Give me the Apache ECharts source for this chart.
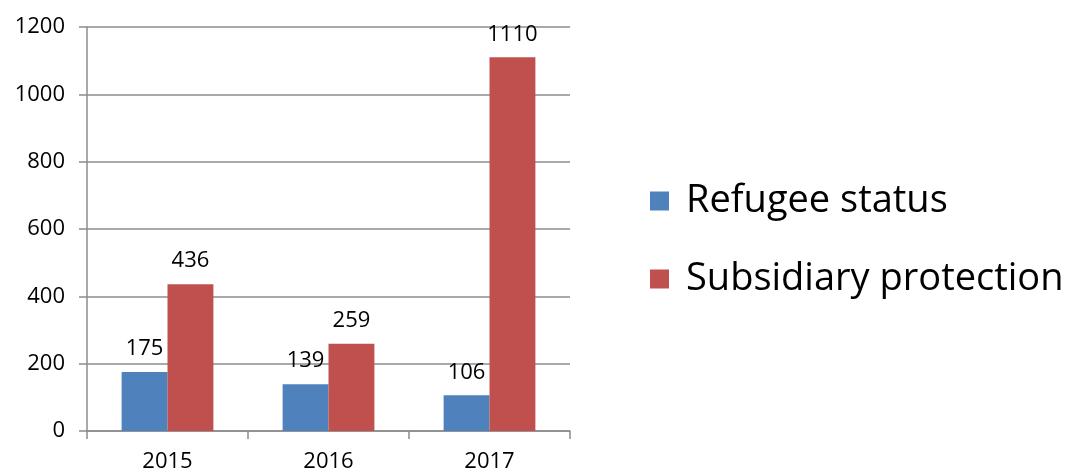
<!DOCTYPE html>
<html><head><meta charset="utf-8">
<script src="https://cdn.jsdelivr.net/npm/echarts@6/dist/echarts.min.js"></script>
<style>html,body{margin:0;padding:0;background:#fff}#c{width:1078px;height:473px}</style>
</head><body><div id="c"></div>
<script>
const categories = ['2015', '2016', '2017'];
const refugeeStatus = [175, 139, 106];
const subsidiaryProtection = [436, 259, 1110];
const seriesNames = ['Refugee status', 'Subsidiary protection'];
const yTicks = { min: 0, max: 1200, interval: 200 };

const font = 'Open Sans';
const chart = echarts.init(document.getElementById('c'));
const labelCfg = { show: true, position: 'top', distance: 12, color: '#000', fontSize: 22, fontFamily: font };
chart.setOption({
  animation: false,
  textStyle: { fontFamily: font },
  grid: { left: 87, right: 508, top: 27, bottom: 42 },
  legend: {
    orient: 'vertical', left: 645, top: 175, itemWidth: 19, itemHeight: 19, itemGap: 36,
    icon: 'rect',
    textStyle: { fontSize: 38, color: '#000', fontFamily: font, lineHeight: 42, padding: [0,0,0,12] },
    data: seriesNames
  },
  xAxis: {
    type: 'category', data: categories,
    axisLine: { lineStyle: { color: '#8c8c8c', width: 1.5 } },
    axisTick: { show: true, length: 8, lineStyle: { color: '#8c8c8c', width: 1.5 } },
    axisLabel: { color: '#000', fontSize: 22, margin: 20, fontFamily: font }
  },
  yAxis: {
    type: 'value', min: yTicks.min, max: yTicks.max, interval: yTicks.interval,
    axisLine: { show: true, lineStyle: { color: '#8c8c8c', width: 1.5 } },
    axisTick: { show: true, length: 8, lineStyle: { color: '#8c8c8c', width: 1.5 } },
    splitLine: { lineStyle: { color: '#8c8c8c', width: 1.5 } },
    axisLabel: { color: '#000', fontSize: 22, margin: 22, fontFamily: font, formatter: v => String(v) }
  },
  series: [
    { name: seriesNames[0], type: 'bar', data: refugeeStatus, barGap: '0%', barCategoryGap: '43%',
      itemStyle: { color: '#4F81BD' }, label: labelCfg },
    { name: seriesNames[1], type: 'bar', data: subsidiaryProtection, barGap: '0%', barCategoryGap: '43%',
      itemStyle: { color: '#C0504D' }, label: labelCfg }
  ]
});
</script></body></html>
